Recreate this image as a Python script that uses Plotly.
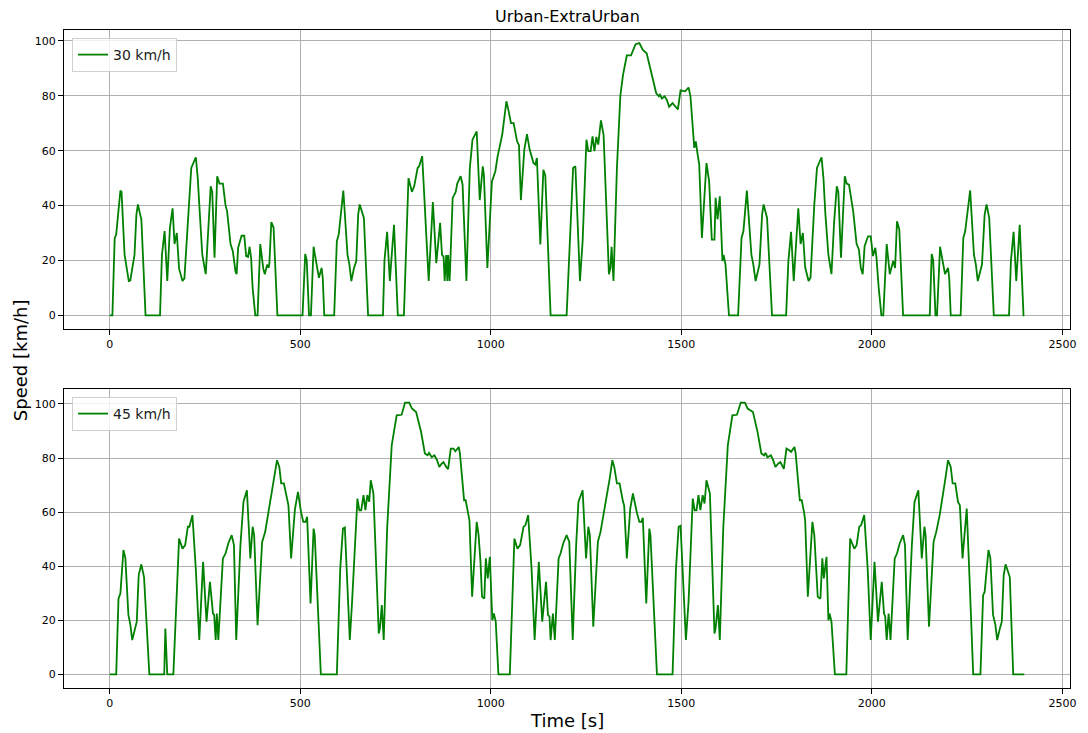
import plotly.graph_objects as go

# Speed profile, 30 km/h variant: time [s] and speed [km/h]
t_30 = [0, 7, 13, 17, 28, 31, 39, 43, 50, 54, 61, 65, 70, 74, 80, 83, 94, 132, 137, 144,
        151, 158, 165, 170, 176, 182, 191, 196, 202, 207, 214, 226, 231, 236, 243, 252, 259, 265, 269, 275,
        282, 288, 297, 304, 308, 317, 323, 330, 333, 337, 346, 353, 358, 363, 367, 371, 375, 382, 388, 395,
        403, 407, 413, 417, 419, 424, 430, 440, 506, 513, 517, 523, 528, 535, 543, 549, 556, 559, 563, 589,
        596, 601, 613, 624, 629, 634, 641, 647, 652, 656, 667, 678, 717, 721, 728, 735, 746, 756, 772, 779,
        784, 793, 799, 808, 812, 820, 827, 837, 848, 857, 867, 872, 876, 879, 883, 886, 888, 892, 900, 908,
        912, 921, 926, 936, 945, 952, 963, 971, 979, 982, 991, 1003, 1012, 1018, 1030, 1041, 1047, 1053, 1060, 1069,
        1074, 1079, 1088, 1095, 1102, 1112, 1117, 1121, 1130, 1138, 1143, 1157, 1199, 1210, 1216, 1222, 1234, 1241, 1251, 1256,
        1262, 1267, 1272, 1277, 1282, 1289, 1296, 1310, 1314, 1317, 1322, 1331, 1340, 1347, 1357, 1368, 1380, 1390, 1399, 1409,
        1418, 1434, 1441, 1444, 1449, 1456, 1462, 1468, 1477, 1486, 1491, 1498, 1510, 1519, 1524, 1534, 1538, 1543, 1547, 1554,
        1559, 1566, 1573, 1580, 1587, 1590, 1595, 1601, 1608, 1611, 1616, 1625, 1649, 1658, 1663, 1672, 1684, 1689, 1695, 1705,
        1712, 1716, 1725, 1738, 1775, 1781, 1788, 1795, 1807, 1813, 1819, 1825, 1834, 1839, 1844, 1849, 1856, 1868, 1873, 1878,
        1886, 1894, 1901, 1908, 1912, 1919, 1929, 1934, 1940, 1947, 1951, 1960, 1966, 1971, 1976, 1981, 1990, 1997, 2003, 2009,
        2012, 2018, 2025, 2030, 2039, 2047, 2056, 2061, 2066, 2072, 2082, 2152, 2157, 2161, 2167, 2171, 2179, 2192, 2200, 2203,
        2207, 2233, 2240, 2245, 2258, 2268, 2273, 2278, 2289, 2296, 2301, 2308, 2320, 2360, 2365, 2372, 2379, 2388, 2398, 2400]
v_30 = [0, 0, 28, 29.5, 45.5, 45, 22, 18.5, 12.5, 12.7, 18.5, 22, 36.7, 40.4, 36.7, 35, 0, 0, 22, 30.7,
        12.5, 32, 39, 26, 30, 17, 12.5, 13.5, 27, 40, 53.7, 57.6, 50, 38, 22, 15, 34, 47, 45, 21,
        50.7, 48, 48, 40, 38, 26, 23.4, 16, 15, 24.6, 29, 29, 21.6, 21.3, 25, 21, 10, 0, 0, 26,
        17, 15, 18.5, 17.3, 19, 34, 32, 0, 0, 22.4, 20, 0, 0, 25, 18.5, 13.7, 17.3, 13.7, 0, 0,
        27, 29.5, 45.5, 22, 18.5, 12.5, 17.3, 19.8, 36.7, 40.4, 35.5, 0, 0, 20, 30.4, 12.5, 33, 0, 0, 29.5,
        50, 45, 47, 53.7, 54.3, 58, 39, 12.5, 41.3, 19, 33.7, 22, 21.4, 12.5, 22, 12.5, 22, 12.5, 42.8, 45,
        48, 50.7, 47.6, 12.5, 53.7, 64, 67, 42, 54.3, 51, 17.3, 48.8, 52.5, 58, 65.8, 78, 74.3, 70, 70, 63.4,
        62, 42, 60.4, 66, 60.4, 55.5, 54.9, 57.3, 25.8, 53, 51, 0, 0, 39, 53.7, 54.3, 12.5, 27, 64, 59.8,
        59.8, 65.2, 59.8, 65, 62.2, 71, 65.8, 15, 17.3, 25, 12.5, 53.7, 80, 87.6, 94.7, 94.7, 98.8, 99.2, 96.7, 95.5,
        90, 81, 79.8, 80.4, 79, 79.8, 78.5, 76, 77.3, 76, 75, 82, 81.6, 83, 79.8, 61, 63.4, 58.5, 55, 28.2,
        39, 55.5, 48.8, 27.6, 27.6, 42.8, 35, 43.4, 19.8, 22, 18.5, 0, 0, 28.2, 30.7, 45.5, 22, 18.5, 12.5, 18.5,
        36.7, 40.4, 35.5, 0, 0, 20, 30.4, 12.5, 39, 26, 30, 17.5, 12.5, 13.7, 27, 40.4, 53.7, 57.6, 50, 37,
        22, 15, 34, 47, 45, 21, 50.7, 48, 47.6, 40.4, 38, 26, 24, 17.3, 15, 25.2, 28.8, 28.8, 21.6, 24.6,
        21.3, 10, 0, 0, 26, 15, 19.8, 17.3, 34.3, 31.3, 0, 0, 22.4, 20, 0, 0, 25, 15, 17.3, 13.7,
        0, 0, 28.2, 30.7, 45.5, 22, 18.5, 12.5, 18.5, 36.7, 40.4, 35.5, 0, 0, 20, 30.4, 12.5, 33, 0, 0]

# Speed profile, 45 km/h variant
t_45 = [0, 17, 23, 28, 36, 41, 49, 54, 59, 66, 71, 76, 83, 90, 104, 143, 146, 151, 167, 182,
        191, 198, 205, 209, 217, 226, 235, 245, 254, 263, 271, 274, 278, 281, 285, 297, 304, 311, 320, 326,
        332, 343, 351, 360, 369, 375, 379, 388, 400, 408, 415, 424, 431, 439, 445, 450, 457, 466, 469, 476,
        486, 494, 497, 502, 508, 514, 518, 527, 535, 538, 554, 596, 605, 612, 617, 630, 636, 650, 655, 660,
        666, 671, 676, 681, 685, 692, 706, 709, 714, 719, 728, 740, 753, 766, 775, 786, 793, 804, 817, 827,
        834, 838, 845, 852, 859, 865, 871, 876, 883, 888, 895, 902, 907, 916, 919, 930, 934, 940, 944, 951,
        956, 963, 968, 973, 977, 983, 987, 992, 997.5, 1004, 1008, 1013, 1020, 1050, 1062, 1070, 1077, 1086, 1091, 1098,
        1107, 1115, 1126, 1135, 1145, 1150, 1154, 1157, 1163, 1168, 1178, 1183, 1190, 1199, 1206, 1215, 1224, 1230, 1241, 1250,
        1256, 1260, 1269, 1281, 1288, 1296, 1305, 1312, 1319, 1324, 1331, 1338, 1347, 1350, 1357, 1366, 1373, 1378, 1383, 1390,
        1395, 1399, 1408, 1416, 1419, 1436, 1477, 1486, 1493, 1498, 1512, 1519, 1530, 1535, 1540, 1545, 1550, 1556, 1561, 1566,
        1575, 1587, 1590, 1596, 1601, 1610, 1622, 1634, 1646, 1656, 1667, 1674, 1688, 1700, 1710, 1717, 1721, 1726, 1735, 1741,
        1747, 1754, 1760, 1769, 1776, 1783, 1788, 1797, 1800, 1811, 1816, 1822, 1825, 1832, 1837, 1844, 1849, 1853, 1858, 1865,
        1870, 1874, 1881, 1886, 1889, 1894, 1903, 1933, 1943, 1954, 1960, 1967, 1972, 1980, 1989, 1997, 2007, 2016, 2026, 2032,
        2035, 2039, 2044, 2049, 2060, 2066, 2073, 2082, 2087, 2094, 2105, 2112, 2122, 2131, 2138, 2141, 2150, 2162, 2169, 2178,
        2186, 2193, 2200, 2207, 2212, 2219, 2226, 2231, 2238, 2249, 2256, 2266, 2285, 2292, 2296, 2306, 2311, 2318, 2324, 2329,
        2336, 2341, 2346, 2351, 2362, 2371, 2400]
v_45 = [0, 0, 28, 30, 46, 43, 22, 18.5, 12.7, 17, 19.5, 36.7, 40.7, 36, 0, 0, 17, 0, 0, 50.2,
        46.5, 47.8, 54.6, 54.6, 58.9, 38.7, 12.7, 41.6, 19.5, 34.2, 22.5, 22, 12.7, 22.5, 12.7, 42.9, 44.7, 48.4, 51.5, 47.8,
        12.7, 47.8, 63.8, 68.1, 42.9, 54.6, 51.5, 18.2, 49, 52.7, 58.9, 65.6, 71.8, 79.2, 76.7, 70.6, 70.6, 63.8, 62.5, 42.9,
        61, 67.5, 63.8, 60, 56.4, 56.4, 58.3, 26.2, 53.9, 51.5, 0, 0, 39.2, 53.9, 54.3, 12.7, 26.8, 65, 60.7, 60.7,
        66.3, 60.7, 66.3, 63.8, 71.8, 66.9, 15.1, 17, 25.6, 12.7, 53.9, 84.7, 95.8, 96, 100.5, 100.5, 98.3, 97, 89.7, 81.7,
        81, 81.9, 80.3, 81, 79.2, 76.7, 77.9, 78.5, 76.7, 75.9, 83.5, 83.5, 82.5, 84.1, 81.7, 64.4, 64.4, 60, 57, 28.7,
        39.2, 56.4, 51.5, 41.6, 28.7, 28, 42.9, 35.5, 43.5, 20, 22.5, 19.5, 0, 0, 50.2, 46.5, 47.8, 54.6, 55.2, 58.9,
        39.2, 12.7, 41.6, 19.5, 34.2, 22, 21.4, 12.7, 22.5, 12.7, 42.9, 44.7, 48.4, 51.5, 49, 12.7, 47.8, 63.8, 68.1, 42.9,
        54.6, 51.5, 17.6, 49, 52.7, 58.9, 65.6, 72.4, 79.2, 76.7, 70.6, 70.6, 63.8, 62.5, 42.9, 61.3, 66.9, 62.8, 60, 56.4,
        56.4, 57.9, 26.2, 53.9, 51.5, 0, 0, 39.2, 54.6, 55, 12.7, 26.8, 65, 60.7, 60.7, 66.3, 60.7, 66.3, 63.2, 71.8,
        66.9, 15.1, 17, 25.6, 12.7, 53.9, 84.7, 95.8, 96, 100.5, 100.5, 98.3, 97, 89.7, 81.7, 81, 81.9, 80.3, 81, 79.2,
        76.7, 77.9, 78.5, 76, 83.5, 82.9, 82.3, 84.1, 81.7, 64.4, 64.4, 60, 57, 28.7, 39.2, 56.4, 51.5, 41.6, 28.7, 28,
        42.9, 35.5, 43.5, 20, 22.5, 19.5, 0, 0, 50.2, 46.5, 47.8, 54.6, 55.2, 58.9, 39.2, 12.7, 41.6, 19.5, 34.2, 22.5,
        21.4, 12.7, 22.5, 12.7, 42.9, 44.7, 48.4, 51.5, 47.8, 12.7, 47.8, 63.8, 68.1, 42.9, 54.6, 51.5, 17.6, 49, 52.7, 58.9,
        65.6, 72.4, 79.2, 76.7, 70.6, 70.6, 63.8, 62.5, 42.9, 61.3, 36.7, 0, 0, 29.3, 30.5, 46, 43, 22, 18.5, 12.7,
        17, 19.5, 36.7, 40.7, 36, 0, 0]

series_names = ["30 km/h", "45 km/h"]
x_ticks = [0, 500, 1000, 1500, 2000, 2500]
y_ticks = [0, 20, 40, 60, 80, 100]

LINE_COLOR = "#008000"
FONT = "DejaVu Sans"

fig = go.Figure()
fig.add_trace(go.Scatter(x=t_30, y=v_30, mode="lines", name=series_names[0],
                         line=dict(color=LINE_COLOR, width=1.8),
                         xaxis="x", yaxis="y", legend="legend"))
fig.add_trace(go.Scatter(x=t_45, y=v_45, mode="lines", name=series_names[1],
                         line=dict(color=LINE_COLOR, width=1.8),
                         xaxis="x2", yaxis="y2", legend="legend2"))

axis_common = dict(showline=True, mirror=True, linecolor="black", linewidth=1,
                   ticks="outside", ticklen=5, tickwidth=1, tickcolor="black",
                   showgrid=True, gridcolor="#b0b0b0", gridwidth=1, zeroline=False,
                   tickfont=dict(family=FONT, size=11, color="black"))

top_y0 = (688 - 329) / 658.0
bot_y1 = (688 - 389) / 658.0

legend_common = dict(font=dict(family=FONT, size=14, color="#222222"),
                     bgcolor="rgba(255,255,255,0.8)", bordercolor="#d0d0d0", borderwidth=1,
                     xanchor="left", yanchor="top", itemwidth=30, tracegroupgap=0)

fig.update_layout(
    width=1088, height=733,
    margin=dict(l=64, r=13, t=30, b=45),
    paper_bgcolor="white", plot_bgcolor="white",
    font=dict(family=FONT, color="black"),
    xaxis=dict(domain=[0, 1], anchor="y", range=[-120, 2520], tickvals=x_ticks, **axis_common),
    yaxis=dict(domain=[top_y0, 1], anchor="x", range=[-4.96, 103.95], tickvals=y_ticks, **axis_common),
    xaxis2=dict(domain=[0, 1], anchor="y2", range=[-120, 2520], tickvals=x_ticks, **axis_common),
    yaxis2=dict(domain=[0, bot_y1], anchor="x2", range=[-5.03, 105.53], tickvals=y_ticks, **axis_common),
    legend=dict(x=0.008, y=1 - 8 / 658.0, **legend_common),
    legend2=dict(x=0.008, y=bot_y1 - 8 / 658.0, **legend_common),
    showlegend=True,
)

fig.add_annotation(text="Urban-ExtraUrban", xref="paper", yref="paper", x=0.5, y=1 + 13 / 658.0,
                   xanchor="center", yanchor="middle", showarrow=False,
                   font=dict(family=FONT, size=16, color="black"))
fig.add_annotation(text="Speed [km/h]", xref="paper", yref="paper", x=(20 - 64) / 1011.0, y=(688 - 360) / 658.0,
                   xanchor="center", yanchor="middle", textangle=-90, showarrow=False,
                   font=dict(family=FONT, size=18, color="black"))
fig.add_annotation(text="Time [s]", xref="paper", yref="paper", x=0.5, y=(688 - 720) / 658.0,
                   xanchor="center", yanchor="middle", showarrow=False,
                   font=dict(family=FONT, size=18, color="black"))

fig.write_html("out.html")
